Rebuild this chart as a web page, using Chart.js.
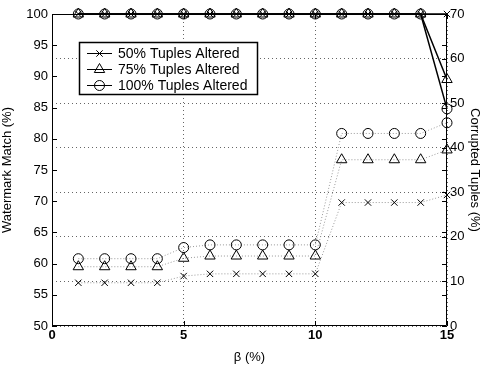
<!DOCTYPE html>
<html>
<head>
<meta charset="utf-8">
<script src="https://cdn.jsdelivr.net/npm/chart.js@4"></script>
<style>
  html, body { margin: 0; padding: 0; background: #fff; }
  #wrap { width: 482px; height: 367px; position: relative; }
</style>
</head>
<body>
<div id="wrap"><canvas id="chart"></canvas></div>
<script>
const beta = [1, 2, 3, 4, 5, 6, 7, 8, 9, 10, 11, 12, 13, 14, 15];
const seriesNames = ['50% Tuples Altered', '75% Tuples Altered', '100% Tuples Altered'];

// watermark match (left axis)
const match50 = [100, 100, 100, 100, 100, 100, 100, 100, 100, 100, 100, 100, 100, 100, 100];
const match75 = [100, 100, 100, 100, 100, 100, 100, 100, 100, 100, 100, 100, 100, 100, 89.5];
const match100 = [100, 100, 100, 100, 100, 100, 100, 100, 100, 100, 100, 100, 100, 100, 84.8];

// corrupted tuples (right axis)
const corrupt50 = [9.7, 9.7, 9.7, 9.7, 11.2, 11.7, 11.7, 11.7, 11.7, 11.7, 27.7, 27.7, 27.7, 27.7, 29.4];
const corrupt75 = [13.3, 13.3, 13.3, 13.3, 15.2, 15.7, 15.7, 15.7, 15.7, 15.7, 37.3, 37.3, 37.3, 37.3, 39.5];
const corrupt100 = [15.1, 15.1, 15.1, 15.1, 17.6, 18.2, 18.2, 18.2, 18.2, 18.2, 43.2, 43.2, 43.2, 43.2, 45.6];

const markers = ['crossRot', 'triangle', 'circle'];
const markerSize = [4.5, 6, 5];
const FONT = "'Liberation Sans', Arial, Helvetica, sans-serif";

function pts(ys) {
  return beta.map((b, i) => ({x: b, y: ys[i]}));
}

function solid(i, ys) {
  return {
    label: seriesNames[i],
    data: pts(ys),
    yAxisID: 'y',
    borderColor: '#000',
    borderWidth: 1.5,
    pointStyle: markers[i],
    pointRadius: markerSize[i],
    pointBorderColor: '#000',
    pointBackgroundColor: 'rgba(0,0,0,0)',
    pointBorderWidth: 1,
    clip: false,
    inLegend: true
  };
}

function dotted(i, ys) {
  return {
    label: seriesNames[i] + ' (corrupted)',
    data: pts(ys),
    yAxisID: 'y2',
    borderColor: '#999',
    borderWidth: 1,
    borderDash: [1, 2],
    pointStyle: markers[i],
    pointRadius: markerSize[i],
    pointBorderColor: '#000',
    pointBackgroundColor: 'rgba(0,0,0,0)',
    pointBorderWidth: 1,
    clip: false
  };
}

// frame, inward ticks and the boxed legend
const framePlugin = {
  id: 'frame',
  afterDraw(chart) {
    const {ctx, chartArea: a, scales} = chart;
    ctx.save();
    ctx.strokeStyle = '#000';
    ctx.lineWidth = 1;
    ctx.beginPath();
    ctx.rect(a.left + 0.5, a.top + 0.5, a.right - a.left - 1, a.bottom - a.top - 1);
    ctx.stroke();

    const tl = 5;
    ctx.beginPath();
    scales.y.ticks.forEach(t => {
      const py = Math.round(scales.y.getPixelForValue(t.value)) + 0.5;
      ctx.moveTo(a.left, py); ctx.lineTo(a.left + tl, py);
      ctx.moveTo(a.right, py); ctx.lineTo(a.right - tl, py);
    });
    scales.y2.ticks.forEach(t => {
      const py = Math.round(scales.y2.getPixelForValue(t.value)) + 0.5;
      ctx.moveTo(a.right, py); ctx.lineTo(a.right - tl, py);
    });
    scales.x.ticks.forEach(t => {
      const px = Math.round(scales.x.getPixelForValue(t.value)) + 0.5;
      ctx.moveTo(px, a.bottom); ctx.lineTo(px, a.bottom - tl);
      ctx.moveTo(px, a.top); ctx.lineTo(px, a.top + tl);
    });
    ctx.stroke();

    // legend
    const bx = 79.5, by = 42.5, bw = 178, bh = 52;
    ctx.fillStyle = '#fff';
    ctx.fillRect(bx, by, bw, bh);
    ctx.lineWidth = 1.5;
    ctx.strokeRect(bx, by, bw, bh);
    ctx.lineWidth = 1;
    ctx.font = '14px ' + FONT;
    ctx.textBaseline = 'middle';
    const items = chart.data.datasets.filter(d => d.inLegend);
    items.forEach((d, i) => {
      const yy = 53.5 + i * 16;
      ctx.strokeStyle = '#000';
      ctx.beginPath();
      ctx.moveTo(87, yy); ctx.lineTo(112, yy);
      ctx.stroke();
      ctx.fillStyle = 'rgba(0,0,0,0)';
      Chart.helpers.drawPoint(ctx, {
        pointStyle: d.pointStyle,
        radius: d.pointRadius,
        borderWidth: 1,
        rotation: 0
      }, 99.5, yy);
      ctx.fillStyle = '#000';
      ctx.fillText(d.label, 118, yy + 1);
    });
    ctx.restore();
  }
};

new Chart(document.getElementById('chart'), {
  type: 'line',
  data: {
    datasets: [
      solid(0, match50), solid(1, match75), solid(2, match100),
      dotted(0, corrupt50), dotted(1, corrupt75), dotted(2, corrupt100)
    ]
  },
  options: {
    responsive: true,
    maintainAspectRatio: false,
    animation: false,
    layout: { padding: { top: 14, left: 0, right: 0, bottom: 0 } },
    plugins: {
      legend: { display: false },
      tooltip: { enabled: false }
    },
    scales: {
      x: {
        type: 'linear',
        min: 0, max: 15,
        ticks: {
          stepSize: 5, color: '#000', padding: 2,
          font: { family: FONT, size: 13, weight: 'bold' }
        },
        grid: { drawTicks: false, color: '#666', lineWidth: 1 },
        border: { display: false, dash: [1, 3] },
        title: {
          display: true, text: 'β (%)', color: '#000', padding: {top: 1, bottom: 2},
          font: { family: FONT, size: 13 }
        },
        afterFit(s) { s.height = 41; }
      },
      y: {
        position: 'left',
        min: 50, max: 100,
        ticks: {
          stepSize: 5, color: '#000', padding: 4,
          font: { family: FONT, size: 13 }
        },
        grid: { display: false, drawTicks: false },
        border: { display: false },
        title: {
          display: true, text: 'Watermark Match (%)', color: '#000', padding: {top: 0, bottom: 0},
          font: { family: FONT, size: 13 }
        },
        afterFit(s) { s.width = 52; }
      },
      y2: {
        position: 'right',
        min: 0, max: 70,
        ticks: {
          stepSize: 10, color: '#000', padding: 3,
          font: { family: FONT, size: 13 }
        },
        grid: { drawTicks: false, color: '#666', lineWidth: 1 },
        border: { display: false, dash: [1, 3] },
        title: {
          display: true, text: 'Corrupted Tuples (%)', color: '#000', padding: {top: 0, bottom: 0},
          font: { family: FONT, size: 13 }
        },
        afterFit(s) { s.width = 35; }
      }
    }
  },
  plugins: [framePlugin]
});
</script>
</body>
</html>
